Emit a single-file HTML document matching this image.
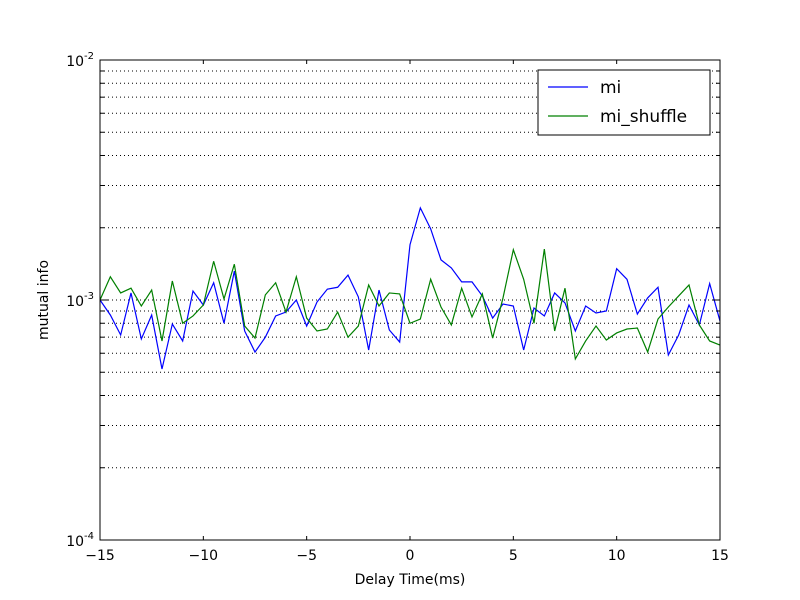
<!DOCTYPE html>
<html><head><meta charset="utf-8"><style>
body{margin:0;background:#fff}
svg{display:block;font-family:"DejaVu Sans","Liberation Sans",sans-serif}
</style></head><body>
<svg id="chart" width="800" height="600" viewBox="0 0 800 600"></svg>
<script>
const xValues = [];
for (let i = 0; i <= 60; i++) xValues.push(-15 + i * 0.5);
const miValues = [1.00,0.866,0.715,1.07,0.688,0.866,0.516,0.794,0.675,1.09,0.953,1.18,0.80,1.32,0.743,0.607,0.70,0.858,0.891,1.0,0.779,0.981,1.11,1.13,1.27,1.03,0.619,1.10,0.75,0.668,1.70,2.42,1.98,1.47,1.36,1.19,1.19,1.04,0.841,0.962,0.944,0.619,0.926,0.858,1.07,0.972,0.743,0.944,0.883,0.90,1.35,1.22,0.874,1.02,1.13,0.59,0.715,0.953,0.787,1.17,0.817];
const miShuffleValues = [1.0,1.25,1.07,1.12,0.944,1.10,0.675,1.20,0.80,0.858,0.953,1.45,1.01,1.41,0.779,0.694,1.05,1.18,0.891,1.25,0.841,0.743,0.757,0.891,0.70,0.779,1.155,0.944,1.07,1.06,0.80,0.833,1.22,0.935,0.787,1.12,0.85,1.06,0.694,1.02,1.62,1.22,0.80,1.63,0.743,1.12,0.568,0.675,0.779,0.681,0.729,0.757,0.764,0.607,0.833,0.935,1.04,1.155,0.787,0.675,0.649];
const xTicks = [-15,-10,-5,0,5,10,15];
const yTickExps = [-4,-3,-2];
const L=100,R=720,T=60,B=540;
const xs = v => L + (v + 15) / 30 * (R - L);
const ys = v => B - (Math.log10(v * 1e-3) + 4) / 2 * (B - T);
const svg = document.getElementById('chart');
const NS='http://www.w3.org/2000/svg';
function mk(tag, attrs, parent){const e=document.createElementNS(NS,tag);for(const k in attrs)e.setAttribute(k,attrs[k]);(parent||svg).appendChild(e);return e;}
const grid = mk('g',{});


for (let d=-4; d<-2; d++) for (let m=1; m<10; m++){
  if (d===-4 && m===1) continue;
  const y = ys(m*Math.pow(10,d)*1e3);
  mk('line',{x1:L,x2:R,y1:y,y2:y,stroke:'#000','stroke-dasharray':'1,3','stroke-width':1},grid);
}
function series(vals,color,name){
  const p = mk('polyline',{points:vals.map((v,i)=>xs(xValues[i])+','+ys(v)).join(' '),fill:'none',stroke:color,'stroke-width':1.2});
  
  
}
series(miValues,'#0000ff','mi-line');
series(miShuffleValues,'#008000','mi-shuffle-line');
const fr = mk('rect',{x:L,y:T,width:R-L,height:B-T,fill:'none',stroke:'#000','stroke-width':1});


xTicks.forEach(t=>{
  const x=xs(t);
  mk('line',{x1:x,x2:x,y1:B,y2:B-4,stroke:'#000'});
  mk('line',{x1:x,x2:x,y1:T,y2:T+4,stroke:'#000'});
  const tx=mk('text',{x:x,y:B+20,'font-size':14,'text-anchor':'middle'});
  tx.textContent=(t<0?'\u2212'+(-t):t);
  
  
});
yTickExps.forEach(e=>{
  const y=ys(Math.pow(10,e)*1e3);
  mk('line',{x1:L,x2:L+8,y1:y,y2:y,stroke:'#000'});
  mk('line',{x1:R,x2:R-8,y1:y,y2:y,stroke:'#000'});
  const tx=mk('text',{x:L-6,y:y+6,'font-size':14,'text-anchor':'end'});
  tx.innerHTML='10<tspan dy="-7" font-size="10">'+(e<0?'-'+(-e):e)+'</tspan>';
  
  
});
for (let d=-4; d<-2; d++) for (let m=2; m<10; m++){
  const y = ys(m*Math.pow(10,d)*1e3);
  mk('line',{x1:L,x2:L+4,y1:y,y2:y,stroke:'#000'});
  mk('line',{x1:R,x2:R-4,y1:y,y2:y,stroke:'#000'});
}
const xl=mk('text',{x:410,y:584,'font-size':14,'text-anchor':'middle'});xl.textContent='Delay Time(ms)';


const yl=mk('text',{x:48,y:300,'font-size':14,'text-anchor':'middle',transform:'rotate(-90 48 300)'});yl.textContent='mutual info';


const lg=mk('g',{});


mk('rect',{x:538,y:70,width:172,height:65,fill:'#fff',stroke:'#000'},lg);
mk('line',{x1:548,x2:588,y1:87,y2:87,stroke:'#0000ff','stroke-width':1.2},lg);
mk('line',{x1:548,x2:588,y1:116,y2:116,stroke:'#008000','stroke-width':1.2},lg);
const t1=mk('text',{x:600,y:93,'font-size':17},lg);t1.textContent='mi';


const t2=mk('text',{x:600,y:122,'font-size':17},lg);t2.textContent='mi_shuffle';


</script>
</body></html>
